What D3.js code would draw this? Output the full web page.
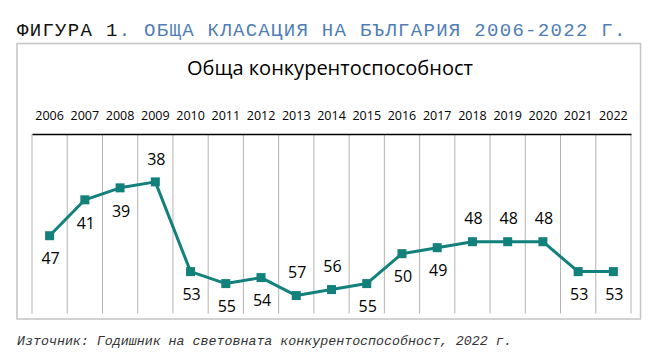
<!DOCTYPE html>
<html lang="bg">
<head>
    <meta charset="UTF-8">
    <title>Обща конкурентоспособност</title>
    <script src="https://cdnjs.cloudflare.com/ajax/libs/d3/7.8.4/d3.min.js"></script>
    <style>
        body { margin: 0; background: #fff; }
        svg { display: block; }
    </style>
</head>
<body>
    <svg width="663" height="363"></svg>

    <script>
        // data
        const years = ["2006", "2007", "2008", "2009", "2010", "2011", "2012", "2013", "2014",
                       "2015", "2016", "2017", "2018", "2019", "2020", "2021", "2022"];
        const ranks = [47, 41, 39, 38, 53, 55, 54, 57, 56, 55, 50, 49, 48, 48, 48, 53, 53];
        const labelSide = ["below", "below", "below", "above", "below", "below", "below", "above", "above",
                           "below", "below", "below", "above", "above", "above", "below", "below"];
        const rankDomain = [30, 60];

        const teal = "#12807b";
        const svg = d3.select("svg");

        // figure caption
        const cap = svg.append("text")
            .attr("x", 17)
            .attr("y", 36)
            .style("font-family", "'Liberation Mono', 'DejaVu Sans Mono', monospace")
            .style("font-size", "19px")
            .style("letter-spacing", "1.3px");
        cap.append("tspan").attr("fill", "#111").text("ФИГУРА 1");
        cap.append("tspan").attr("fill", "#4f7db5").text(". ОБЩА КЛАСАЦИЯ НА БЪЛГАРИЯ 2006-2022 Г.");

        // chart frame
        svg.append("rect")
            .attr("x", 17)
            .attr("y", 43.5)
            .attr("width", 623.5)
            .attr("height", 275.5)
            .attr("fill", "#fff")
            .attr("stroke", "#c4c4c4")
            .attr("stroke-width", 1.5);

        svg.append("text")
            .attr("x", 330)
            .attr("y", 75)
            .attr("text-anchor", "middle")
            .style("font-family", "'Open Sans', sans-serif")
            .style("font-size", "20px")
            .attr("fill", "#000")
            .text("Обща конкурентоспособност");

        const x = d3.scaleBand().domain(years).range([32, 631]);
        const y = d3.scaleLinear().domain(rankDomain).range([134, 313.5]);
        const cx = d => x(d) + x.bandwidth() / 2;

        // vertical gridlines on band edges
        const edges = years.map(d => x(d)).concat([x.range()[1]]);
        svg.append("g")
            .selectAll("line")
            .data(edges)
            .enter().append("line")
            .attr("x1", d => d)
            .attr("x2", d => d)
            .attr("y1", y(rankDomain[0]))
            .attr("y2", y(rankDomain[1]))
            .attr("stroke", "#b3b3b3")
            .attr("stroke-width", 1);

        // category axis on top
        const axis = svg.append("g")
            .attr("transform", `translate(0,${y(rankDomain[0])})`)
            .call(d3.axisTop(x).tickSize(0).tickSizeOuter(0).tickPadding(14));
        axis.select(".domain").attr("stroke", "#000").attr("stroke-width", 1.5);
        axis.selectAll("text")
            .style("font-family", "'Open Sans', sans-serif")
            .style("font-size", "12.5px")
            .attr("fill", "#000");

        // line
        const points = years.map((d, i) => ({ year: d, rank: ranks[i], side: labelSide[i] }));
        svg.append("path")
            .datum(points)
            .attr("fill", "none")
            .attr("stroke", teal)
            .attr("stroke-width", 3)
            .attr("stroke-linejoin", "round")
            .attr("d", d3.line().x(d => cx(d.year)).y(d => y(d.rank)));

        // markers
        svg.append("g")
            .selectAll("rect")
            .data(points)
            .enter().append("rect")
            .attr("x", d => cx(d.year) - 4.5)
            .attr("y", d => y(d.rank) - 4.5)
            .attr("width", 9)
            .attr("height", 9)
            .attr("fill", teal);

        // value labels
        svg.append("g")
            .selectAll("text")
            .data(points)
            .enter().append("text")
            .attr("x", d => cx(d.year) + 1)
            .attr("y", d => y(d.rank) + (d.side === "above" ? -23 : 23))
            .attr("dy", "0.36em")
            .attr("text-anchor", "middle")
            .style("font-family", "'Open Sans', sans-serif")
            .style("font-size", "16px")
            .attr("fill", "#000")
            .text(d => d.rank);

        // source note
        svg.append("text")
            .attr("x", 17)
            .attr("y", 345)
            .style("font-family", "'Liberation Mono', 'DejaVu Sans Mono', monospace")
            .style("font-size", "13.3px")
            .style("font-style", "italic")
            .attr("fill", "#333")
            .text("Източник: Годишник на световната конкурентоспособност, 2022 г.");
    </script>
</body>
</html>
